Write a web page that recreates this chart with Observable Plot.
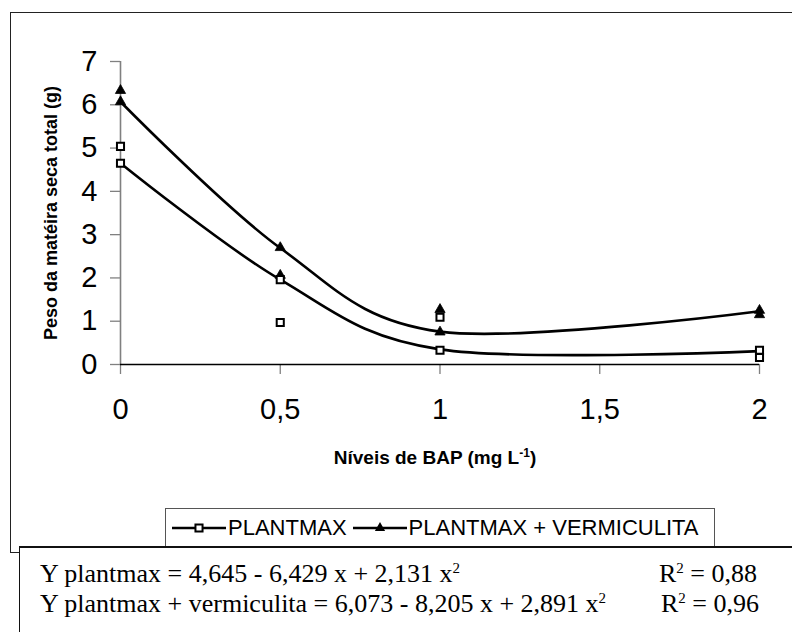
<!DOCTYPE html>
<html>
<head>
<meta charset="utf-8">
<script src="https://cdn.jsdelivr.net/npm/d3@7"></script>
<script src="https://cdn.jsdelivr.net/npm/@observablehq/plot@0.6"></script>
<style>
  html, body { margin: 0; padding: 0; background: white; }
  #page { position: relative; width: 792px; height: 632px; overflow: hidden; background: white; }
  #frame { position: absolute; left: 10px; top: 12px; width: 800px; height: 539px; border: 1.5px solid #222; }
  #chart { position: absolute; left: 0; top: 0; }
  #xtitle { position: absolute; left: 120px; width: 630px; top: 446px; text-align: center;
            font: bold 19px Arial, "Liberation Sans", sans-serif; color: black; }
  #xtitle sup { font-size: 12px; }
  #legend { position: absolute; left: 165px; top: 508px; width: 548px; height: 38px; border: 1px solid #555;
            background: white; font: 22px Arial, "Liberation Sans", sans-serif; display: flex; align-items: center; }
  #legend .item { display: flex; align-items: center; margin-left: 6px; }
  #legend svg { display: block; }
  #eqbox { position: absolute; left: 19px; top: 546px; width: 800px; height: 120px; background: white;
           border-top: 2px solid #111; border-left: 1.5px solid #111;
           font-family: "Times New Roman", "Liberation Serif", serif; font-size: 26px; color: black; }
  .eq { position: absolute; white-space: nowrap; line-height: 28px; }
  .eq sup { font-size: 15px; vertical-align: 9px; line-height: 0; }
</style>
</head>
<body>
<div id="page">
  <div id="frame"></div>
  <div id="chart"></div>
  <div id="xtitle"></div>
  <div id="legend"></div>
  <div id="eqbox"></div>
</div>
<script>
// ---- data ----
const doses = [0, 0, 0.5, 0.5, 1, 1, 2, 2];
const plantmaxObs = [5.04, 4.65, 1.96, 0.97, 1.09, 0.33, 0.33, 0.16];
const vermiculitaObs = [6.33, 6.07, 2.70, 2.06, 1.27, 0.75, 1.25, 1.15];

const fitDoses = [0, 0.5, 1, 2];
const plantmaxFit = [4.65, 1.96, 0.35, 0.31];
const vermiculitaFit = [6.07, 2.69, 0.76, 1.23];

const xTicks = [0, 0.5, 1, 1.5, 2];
const yTicks = [0, 1, 2, 3, 4, 5, 6, 7];

const seriesNames = ["PLANTMAX", "PLANTMAX + VERMICULITA"];
const yTitle = "Peso da matéira seca total (g)";
const xTitleText = "Níveis de BAP (mg L";
const xTitleSup = "-1";
const eqLeft = ["Y plantmax = 4,645 - 6,429 x + 2,131 x", "Y plantmax + vermiculita = 6,073 - 8,205 x + 2,891 x"];
const r2Values = ["0,88", "0,96"];

// ---- build tables ----
const obsP = doses.map((d, i) => ({dose: d, value: plantmaxObs[i]}));
const obsV = doses.map((d, i) => ({dose: d, value: vermiculitaObs[i]}));
const fitP = fitDoses.map((d, i) => ({dose: d, value: plantmaxFit[i]}));
const fitV = fitDoses.map((d, i) => ({dose: d, value: vermiculitaFit[i]}));

const fmt = d => String(d).replace(".", ",");

const chart = Plot.plot({
  width: 792,
  height: 400,
  marginLeft: 120,
  marginRight: 33,
  marginTop: 61,
  marginBottom: 36,
  x: {domain: [0, 2]},
  y: {domain: [0, 7]},
  style: {fontFamily: "Arial, 'Liberation Sans', sans-serif", fontSize: "29px", color: "black", background: "transparent", overflow: "visible"},
  marks: [
    Plot.axisY({ticks: yTicks, tickSize: 10, tickPadding: 13, label: null, stroke: "#808080", strokeWidth: 1.3, tickFormat: fmt}),
    Plot.axisX({ticks: xTicks, tickSize: 10, tickPadding: 24, label: null, stroke: "#808080", strokeWidth: 1.3, tickFormat: fmt}),
    Plot.ruleX([0], {stroke: "#808080", strokeWidth: 1.6}),
    Plot.ruleY([0], {stroke: "black", strokeWidth: 1.6}),
    Plot.line(fitP, {x: "dose", y: "value", curve: "cardinal", stroke: "black", strokeWidth: 2.6}),
    Plot.line(fitV, {x: "dose", y: "value", curve: "cardinal", stroke: "black", strokeWidth: 2.6}),
    Plot.dot(obsV, {x: "dose", y: "value", symbol: "triangle", r: 3.8, fill: "black", stroke: "black", strokeWidth: 0.8}),
    Plot.dot(obsP, {x: "dose", y: "value", symbol: "square", r: 4, fill: "white", stroke: "black", strokeWidth: 2}),
    Plot.text([yTitle], {frameAnchor: "left", dx: -69, rotate: -90, textAnchor: "middle", fontSize: 18, fontWeight: "bold", fill: "black"})
  ]
});
document.getElementById("chart").appendChild(chart);

// x title
document.getElementById("xtitle").innerHTML = `${xTitleText}<sup>${xTitleSup}</sup>)`;

// legend
const legend = document.getElementById("legend");
function swatch(kind) {
  const ns = "http://www.w3.org/2000/svg";
  const svg = document.createElementNS(ns, "svg");
  svg.setAttribute("width", 54); svg.setAttribute("height", 20);
  const line = document.createElementNS(ns, "line");
  line.setAttribute("x1", 0); line.setAttribute("x2", 54); line.setAttribute("y1", 10); line.setAttribute("y2", 10);
  line.setAttribute("stroke", "black"); line.setAttribute("stroke-width", 2.6);
  svg.appendChild(line);
  const sym = document.createElementNS(ns, "path");
  const size = kind === "square" ? Math.PI * 16 : Math.PI * 3.8 * 3.8;
  sym.setAttribute("d", d3.symbol(kind === "square" ? d3.symbolSquare : d3.symbolTriangle, size)());
  sym.setAttribute("transform", "translate(27,10)");
  if (kind === "square") { sym.setAttribute("fill", "white"); sym.setAttribute("stroke", "black"); sym.setAttribute("stroke-width", 2); }
  else { sym.setAttribute("fill", "black"); }
  svg.appendChild(sym);
  return svg;
}
seriesNames.forEach((name, i) => {
  const item = document.createElement("div");
  item.className = "item";
  item.appendChild(swatch(i === 0 ? "square" : "triangle"));
  const t = document.createElement("span");
  t.textContent = name;
  t.style.marginLeft = "2px";
  item.appendChild(t);
  legend.appendChild(item);
});

// equations
const eqbox = document.getElementById("eqbox");
eqLeft.forEach((txt, i) => {
  const a = document.createElement("div");
  a.className = "eq";
  a.style.left = "20px";
  a.style.top = (12 + i * 30) + "px";
  a.innerHTML = `${txt}<sup>2</sup>`;
  eqbox.appendChild(a);
  const b = document.createElement("div");
  b.className = "eq";
  b.style.left = (639 + i * 2) + "px";
  b.style.top = (12 + i * 30) + "px";
  b.innerHTML = `R<sup>2</sup> = ${r2Values[i]}`;
  eqbox.appendChild(b);
});
</script>
</body>
</html>
